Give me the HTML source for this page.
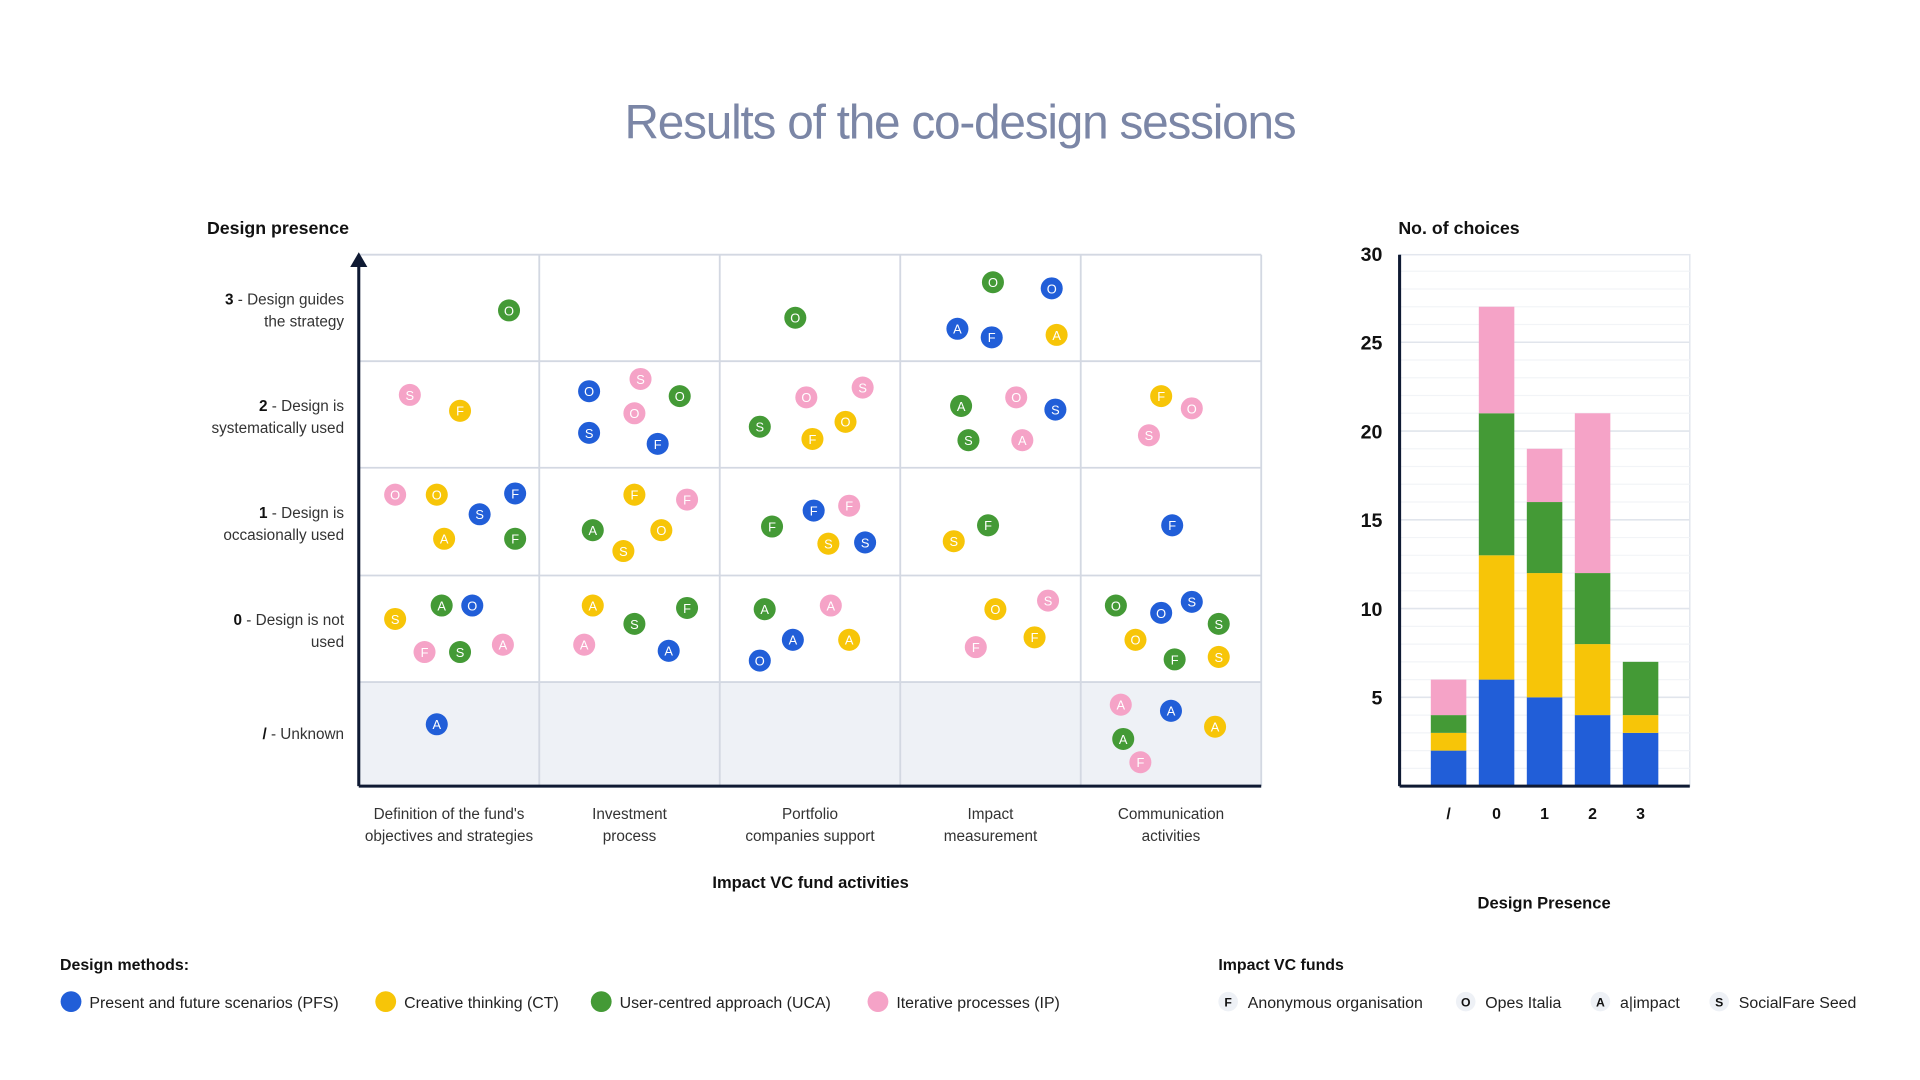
<!DOCTYPE html>
<html><head><meta charset="utf-8"><style>
html,body{margin:0;padding:0;background:#fff;}
svg{display:block;font-family:"Liberation Sans",Arial,sans-serif;}
</style></head><body>
<svg id="chart" width="1920" height="1080" viewBox="0 0 1568 882" xmlns="http://www.w3.org/2000/svg">
<rect width="1568" height="882" fill="#fff"/>
<text x="784" y="113" text-anchor="middle" font-size="39" fill="#7b86a6" letter-spacing="-1">Results of the co-design sessions</text>
<g id="scatter"></g>
<g id="bars"></g>
<g id="legend"></g>
</svg>
<script>
const NS='http://www.w3.org/2000/svg';
function mk(parent,tag,attrs,text){const e=document.createElementNS(NS,tag);for(const k in attrs)e.setAttribute(k,attrs[k]);if(text!==undefined)e.textContent=text;parent.appendChild(e);return e;}
const COLORS={PFS:'#215ed8',CT:'#f7c508',UCA:'#449a36',IP:'#f5a3c7'};

// ---- Scatter data ----
const activities=[["Definition of the fund's","objectives and strategies"],["Investment","process"],["Portfolio","companies support"],["Impact","measurement"],["Communication","activities"]];
const levels=['3','2','1','0','/'];
const levelLabels=[["3"," - Design guides","the strategy"],["2"," - Design is","systematically used"],["1"," - Design is","occasionally used"],["0"," - Design is not","used"],["/"," - Unknown",""]];
const dotActivity=[0,0,0,0,0,0,0,0,0,0,0,0,0,0,0,0,0,1,1,1,1,1,1,1,1,1,1,1,1,1,1,1,1,2,2,2,2,2,2,2,2,2,2,2,2,2,2,2,2,3,3,3,3,3,3,3,3,3,3,3,3,3,3,3,3,3,4,4,4,4,4,4,4,4,4,4,4,4,4,4,4,4];
const dotLevel=['3','2','2','1','1','1','1','1','1','0','0','0','0','0','0','/','/','2','2','2','2','2','2','1','1','1','1','1','0','0','0','0','0','3','2','2','2','2','2','1','1','1','1','1','0','0','0','0','0','3','3','3','3','3','2','2','2','2','2','1','1','0','0','0','0','0','2','2','2','1','0','0','0','0','0','0','0','/','/','/','/','/'];
const dotMethod=['UCA','IP','CT','IP','CT','PFS','PFS','CT','UCA','UCA','PFS','CT','IP','UCA','IP','PFS','-','PFS','IP','UCA','IP','PFS','PFS','CT','IP','UCA','CT','CT','CT','UCA','UCA','IP','PFS','UCA','IP','IP','UCA','CT','CT','PFS','IP','UCA','CT','PFS','UCA','IP','PFS','CT','PFS','UCA','PFS','PFS','PFS','CT','UCA','IP','PFS','UCA','IP','UCA','CT','IP','CT','CT','IP','-','CT','IP','IP','PFS','UCA','PFS','PFS','UCA','CT','UCA','CT','IP','PFS','CT','UCA','IP'];
const dotFund=['O','S','F','O','O','F','S','A','F','A','O','S','F','S','A','A','-','O','S','O','O','S','F','F','F','A','O','S','A','F','S','A','A','O','O','S','S','O','F','F','F','F','S','S','A','A','A','A','O','O','O','A','F','A','A','O','S','S','A','F','S','S','O','F','F','-','F','O','S','F','O','S','O','S','O','F','S','A','A','A','A','F'];
const jitterX=[49,-32,9,-44,-10,54,25,-4,54,-6,19,-44,-20,9,44,-10,0,-33,9,41,4,-33,23,4,47,-30,26,-5,-30,47,4,-37,32,-12,-3,43,-41,29,2,3,32,-31,15,45,-37,17,-14,32,-41,2,50,-27,1,54,-24,21,53,-18,26,-2,-30,47,4,36,-12,0,-8,17,-18,1,-45,17,-8,39,-29,3,39,-41,0,36,-39,-25];
const jitterY=[2,-16,-3,-22,-22,-23,-6,14,14,-19,-19,-8,19,19,13,-8,0,-19,-29,-15,-1,15,24,-22,-18,7,7,24,-19,-17,-4,13,18,8,-14,-22,10,6,20,-9,-13,4,18,17,-16,-19,9,9,26,-21,-16,17,24,22,-7,-14,-4,21,21,3,16,-23,-16,7,15,0,-15,-5,17,3,-19,-22,-13,-4,9,25,23,-24,-19,-6,4,23];

const gx0=293,gx1=1030,gy0=208,gy1=642;
const rowTops=[208,295,382,470,557,642];
const colW=(gx1-gx0)/activities.length;
function xCol(i){return gx0+colW*(i+0.5);}
function yLevel(l){const i=levels.indexOf(l);return (rowTops[i]+rowTops[i+1])/2;}

const sc=document.getElementById('scatter');
mk(sc,'rect',{x:gx0,y:557,width:gx1-gx0,height:85,fill:'#eef1f6',});
for(let i=0;i<=activities.length;i++){const l=mk(sc,'line',{x1:gx0+colW*i,x2:gx0+colW*i,y1:gy0,y2:gy1,stroke:'#d3d8e2','stroke-width':1.5});

}
for(let i=0;i<rowTops.length-1;i++){const l=mk(sc,'line',{x1:gx0,x2:gx1,y1:rowTops[i],y2:rowTops[i],stroke:'#d3d8e2','stroke-width':1.5});

}
const xa=mk(sc,'line',{x1:gx0,x2:gx1,y1:gy1,y2:gy1,stroke:'#0f1a33','stroke-width':2.5});


const ya=mk(sc,'line',{x1:gx0,x2:gx0,y1:gy1,y2:216,stroke:'#0f1a33','stroke-width':2.5});


const ar=mk(sc,'path',{d:'M286,218 L293,206 L300,218 Z',fill:'#0f1a33'});


const yt=mk(sc,'text',{x:169,y:191,'font-size':14.5,'font-weight':'bold',fill:'#111'},'Design presence');


levelLabels.forEach((lb,i)=>{const cy=yLevel(levels[i]);
 const two=lb[2]!=='';
 const t=mk(sc,'text',{x:281,y:two?cy-3:cy+4,'text-anchor':'end','font-size':12.5,fill:'#333'});
 
 
 mk(t,'tspan',{'font-weight':'bold',fill:'#111'},lb[0]);mk(t,'tspan',{},lb[1]);
 if(two){const t2=mk(sc,'text',{x:281,y:cy+15,'text-anchor':'end','font-size':12.5,fill:'#333'},lb[2]);
 
 }
});
activities.forEach((a,i)=>{a.forEach((s,j)=>{const t=mk(sc,'text',{x:xCol(i),y:669+j*18,'text-anchor':'middle','font-size':12.5,fill:'#333'},s);
 
 });});
const xt=mk(sc,'text',{x:662,y:725,'text-anchor':'middle','font-size':13.5,'font-weight':'bold',fill:'#111'},'Impact VC fund activities');


for(let k=0;k<dotActivity.length;k++){
 if(dotMethod[k]==='-')continue;
 const cx=xCol(dotActivity[k])+jitterX[k],cy=yLevel(dotLevel[k])+jitterY[k];
 const g=mk(sc,'g',{});
 
 
 mk(g,'circle',{cx:cx,cy:cy,r:9,fill:COLORS[dotMethod[k]]});
 mk(g,'text',{x:cx,y:cy+4,'text-anchor':'middle','font-size':10.5,fill:'#fff'},dotFund[k]);
}

// ---- Bar data ----
const barCats=['/','0','1','2','3'];
const pfsVals=[2,6,5,4,3];
const ctVals=[1,7,7,4,1];
const ucaVals=[1,8,4,4,3];
const ipVals=[2,6,3,9,0];
const yTicks=[5,10,15,20,25,30];
const bx0=1143,bx1=1380,by0=642,byTop=208;
function yb(v){return by0-v*14.5;}
function xb(i){return 1183+i*39.2;}
const bg=document.getElementById('bars');
mk(bg,'rect',{x:bx0,y:byTop,width:bx1-bx0,height:by0-byTop,fill:'none',stroke:'#e3e7ee','stroke-width':1.2});
for(let v=1;v<=29;v++){const l=mk(bg,'line',{x1:bx0,x2:bx1,y1:yb(v),y2:yb(v),stroke:v%5===0?'#e1e5ec':'#f2f4f7','stroke-width':v%5===0?1.3:1});
 
 }
yTicks.forEach(v=>{const t=mk(bg,'text',{x:1129,y:yb(v)+6,'text-anchor':'end','font-size':16,'font-weight':'bold',fill:'#111'},v);
 
 });
const series=[[pfsVals,'PFS'],[ctVals,'CT'],[ucaVals,'UCA'],[ipVals,'IP']];
barCats.forEach((c,i)=>{let base=0;
 series.forEach(([arr,m])=>{const v=arr[i];if(v>0){const r=mk(bg,'rect',{x:xb(i)-14.5,y:yb(base+v),width:29,height:yb(base)-yb(base+v),fill:COLORS[m]});
  
  }
  base+=v;});
 const t=mk(bg,'text',{x:xb(i),y:669,'text-anchor':'middle','font-size':13,'font-weight':'bold',fill:'#111'},c);
 
 
});
const bxa=mk(bg,'line',{x1:bx0,x2:bx1,y1:by0,y2:by0,stroke:'#0f1a33','stroke-width':2.5});


const bya=mk(bg,'line',{x1:bx0,x2:bx0,y1:by0,y2:byTop,stroke:'#0f1a33','stroke-width':2.5});


const bt=mk(bg,'text',{x:1142,y:191,'font-size':14.5,'font-weight':'bold',fill:'#111'},'No. of choices');


const bxt=mk(bg,'text',{x:1261,y:742,'text-anchor':'middle','font-size':13.5,'font-weight':'bold',fill:'#111'},'Design Presence');



// ---- Legends ----
const lg=document.getElementById('legend');
const lt1=mk(lg,'text',{x:49,y:792,'font-size':13,'font-weight':'bold',fill:'#111'},'Design methods:');


const methodNames=[['PFS','Present and future scenarios (PFS)',58],['CT','Creative thinking (CT)',315],['UCA','User-centred approach (UCA)',491],['IP','Iterative processes (IP)',717]];
methodNames.forEach(([m,n,x])=>{const g=mk(lg,'g',{});
 
 
 mk(g,'circle',{cx:x,cy:818,r:8.5,fill:COLORS[m]});
 mk(g,'text',{x:x+15,y:823,'font-size':13,fill:'#222'},n);});
const lt2=mk(lg,'text',{x:995,y:792,'font-size':13,'font-weight':'bold',fill:'#111'},'Impact VC funds');


const fundNames=[['F','Anonymous organisation',1003],['O','Opes Italia',1197],['A','a|impact',1307],['S','SocialFare Seed',1404]];
fundNames.forEach(([f,n,x])=>{const g=mk(lg,'g',{});
 
 
 mk(g,'circle',{cx:x,cy:818,r:8,fill:'#eef1f6'});
 mk(g,'text',{x:x,y:822,'text-anchor':'middle','font-size':10,'font-weight':'bold',fill:'#111'},f);
 mk(g,'text',{x:x+16,y:823,'font-size':13,fill:'#222'},n);});
</script>
</body></html>
